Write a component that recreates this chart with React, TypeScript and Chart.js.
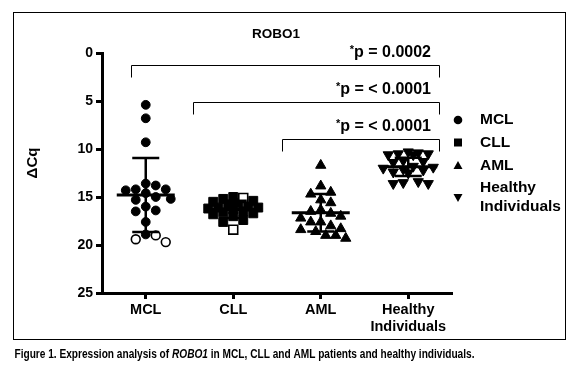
import React, { useEffect, useRef } from 'react';
import { Chart, registerables } from 'chart.js';

Chart.register(...registerables);

// ---------- data ----------
const categories = ['MCL', 'CLL', 'AML', 'Healthy Individuals'];
const mclFilled = [5.4, 6.8, 9.3, 13.6, 13.8, 14.2, 14.3, 14.2, 14.6, 15.2, 15.0, 15.3, 16.0, 16.5, 16.4, 17.6, 18.9];
const mclOpen = [19.0, 19.7, 19.4];
const cllFilled = [15.0, 15.2, 15.4, 15.5, 15.6, 15.8, 16.0, 16.1, 16.1, 16.2, 16.3, 16.5, 16.6, 16.7, 16.8, 17.0, 17.4, 17.6];
const cllOpen = [15.1, 18.4];
const amlFilled = [11.7, 13.85, 14.7, 14.5, 15.3, 15.6, 16.35, 16.5, 16.7, 17.0, 17.2, 17.6, 17.6, 18.0, 18.3, 18.4, 19.0, 19.3, 19.0, 18.6];
const amlOpen: number[] = [];
const healthyFilled = [10.3, 10.4, 10.5, 10.5, 10.6, 10.6, 11.2, 11.3, 11.4, 11.8, 11.9, 12.0, 12.1, 12.2, 12.4, 12.5, 13.4, 13.5, 13.6, 13.6];
const healthyOpen: number[] = [];
const groupMeans = [14.8, 16.3, 16.65, 11.85];
const groupSD = [3.85, 0.9, 1.95, 0.95];
const yMin = 0;
const yMax = 25;
const yStep = 5;
const pLabels = ['p = 0.0002', 'p = < 0.0001', 'p = < 0.0001'];
const chartTitle = 'ROBO1';
const yTitle = 'ΔCq';
const captionParts = [
  { text: 'Figure 1. Expression analysis of ', italic: false },
  { text: 'ROBO1', italic: true },
  { text: ' in MCL, CLL and AML patients and healthy individuals.', italic: false },
];

// ---------- layout / style ----------
const W = 581;
const H = 372;
const PLOT = { left: 102, right: 452, top: 53, bottom: 293 };
const FONT = "'Liberation Sans', Arial, sans-serif";
const styles = ['circle', 'rect', 'triangle', 'triangle'];
const radii = [4.4, 6.3, 5.9, 5.9];
const rotations = [0, 0, 0, 180];

function swarmOffsets(values: number[], pxPerUnitY: number, diam: number, maxHalf: number): number[] {
  const order = values.map((_, i) => i).sort((a, b) => values[a] - values[b]);
  const placed: { x: number; y: number }[] = [];
  const out = new Array(values.length).fill(0);
  for (const i of order) {
    const y = values[i] * pxPerUnitY;
    let done = false;
    for (let f = 1; f > 0.2 && !done; f -= 0.1) {
      const minDist = diam * f;
      for (let k = 0; k < 60; k++) {
        const x = Math.ceil(k / 2) * (k % 2 ? 1 : -1) * diam * 0.5;
        if (Math.abs(x) > maxHalf) break;
        let ok = true;
        for (const p of placed) {
          const dx = p.x - x, dy = p.y - y;
          if (dx * dx + dy * dy < minDist * minDist) { ok = false; break; }
        }
        if (ok) { out[i] = x; placed.push({ x, y }); done = true; break; }
      }
    }
    if (!done) placed.push({ x: 0, y });
  }
  return out;
}

const annotPlugin = {
  id: 'annot',
  afterDatasetsDraw(chart: any) {
    const ctx = chart.ctx;
    const xs = chart.scales.x;
    const ys = chart.scales.y;
    ctx.save();
    ctx.strokeStyle = '#000';
    groupMeans.forEach((m, g) => {
      const cx = xs.getPixelForValue(g);
      const yMean = ys.getPixelForValue(m);
      const yHi = ys.getPixelForValue(m - groupSD[g]);
      const yLo = ys.getPixelForValue(m + groupSD[g]);
      ctx.lineWidth = 2.5;
      ctx.beginPath();
      ctx.moveTo(cx, yHi); ctx.lineTo(cx, yLo);
      ctx.moveTo(cx - 13.5, yHi); ctx.lineTo(cx + 13.5, yHi);
      ctx.moveTo(cx - 13.5, yLo); ctx.lineTo(cx + 13.5, yLo);
      ctx.stroke();
      ctx.lineWidth = 3;
      ctx.beginPath();
      ctx.moveTo(cx - 29, yMean); ctx.lineTo(cx + 29, yMean);
      ctx.stroke();
    });
    ctx.restore();
  },
  afterDraw(chart: any) {
    const ctx = chart.ctx;
    ctx.save();
    ctx.strokeStyle = '#000';
    ctx.fillStyle = '#000';
    // frame
    ctx.lineWidth = 1;
    ctx.strokeRect(13.5, 12.5, 552, 327);
    // title
    ctx.font = `bold 13.5px ${FONT}`;
    ctx.textAlign = 'center';
    ctx.textBaseline = 'middle';
    ctx.fillText(chartTitle, 276, 34);
    // brackets
    const bLeft = [131, 193, 282];
    const bY = [65, 102, 139];
    const bRight = 439;
    ctx.lineWidth = 1;
    bLeft.forEach((lx, i) => {
      const y = bY[i] + 0.5;
      ctx.beginPath();
      ctx.moveTo(lx + 0.5, y + 12); ctx.lineTo(lx + 0.5, y); ctx.lineTo(bRight + 0.5, y); ctx.lineTo(bRight + 0.5, y + 12);
      ctx.stroke();
      ctx.font = `bold 16px ${FONT}`;
      ctx.textAlign = 'right';
      ctx.textBaseline = 'middle';
      const ty = bY[i] - 12;
      ctx.fillText(pLabels[i], 431, ty);
      const w = ctx.measureText(pLabels[i]).width;
      ctx.font = `bold 11px ${FONT}`;
      ctx.fillText('*', 431 - w, ty - 3);
    });
    // y title
    ctx.save();
    ctx.translate(33, 163);
    ctx.rotate(-Math.PI / 2);
    ctx.font = `bold 15px ${FONT}`;
    ctx.textAlign = 'center';
    ctx.textBaseline = 'middle';
    ctx.fillText(yTitle, 0, 0);
    ctx.restore();
    // legend
    const mx = 458;
    const tx = 480;
    ctx.font = `bold 15.5px ${FONT}`;
    ctx.textAlign = 'left';
    ctx.textBaseline = 'middle';
    ctx.beginPath(); ctx.arc(mx, 120, 4.3, 0, Math.PI * 2); ctx.fill();
    ctx.fillText(categories[0], tx, 120);
    ctx.fillRect(mx - 4, 142.5 - 4, 8, 8);
    ctx.fillText(categories[1], tx, 142.5);
    ctx.beginPath(); ctx.moveTo(mx, 161); ctx.lineTo(mx + 4.5, 169); ctx.lineTo(mx - 4.5, 169); ctx.closePath(); ctx.fill();
    ctx.fillText(categories[2], tx, 165.5);
    ctx.beginPath(); ctx.moveTo(mx - 4.5, 194); ctx.lineTo(mx + 4.5, 194); ctx.lineTo(mx, 202); ctx.closePath(); ctx.fill();
    const hl = categories[3].split(' ');
    ctx.fillText(hl[0], tx, 188);
    ctx.fillText(hl[1], tx, 207);
    // caption
    const boldN = `bold 12px ${FONT}`;
    const boldI = `italic bold 12px ${FONT}`;
    let total = 0;
    captionParts.forEach((p) => { ctx.font = p.italic ? boldI : boldN; total += ctx.measureText(p.text).width; });
    const sx = 460 / total;
    ctx.save();
    ctx.translate(14.5, 355);
    ctx.scale(sx, 1);
    let cx = 0;
    ctx.textBaseline = 'middle';
    captionParts.forEach((p) => {
      ctx.font = p.italic ? boldI : boldN;
      ctx.fillText(p.text, cx, 0);
      cx += ctx.measureText(p.text).width;
    });
    ctx.restore();
    ctx.restore();
  },
};

export default function App() {
  const ref = useRef<HTMLCanvasElement | null>(null);
  useEffect(() => {
    if (!ref.current) return;
    const pxY = (PLOT.bottom - PLOT.top) / (yMax - yMin);
    const pxX = (PLOT.right - PLOT.left) / categories.length;
    const groups = [
      [mclFilled, mclOpen],
      [cllFilled, cllOpen],
      [amlFilled, amlOpen],
      [healthyFilled, healthyOpen],
    ];
    const datasets = groups.map(([filled, open], g) => {
      const all = [...filled, ...open];
      const offs = swarmOffsets(all, pxY, 10, 27);
      return {
        label: categories[g],
        data: all.map((v, j) => ({ x: g + offs[j] / pxX, y: v })),
        pointStyle: styles[g] as any,
        pointRadius: radii[g],
        pointRotation: rotations[g],
        pointBackgroundColor: all.map((_, j) => (j < filled.length ? '#000' : '#fff')),
        pointBorderColor: '#000',
        pointBorderWidth: all.map((_, j) => (j < filled.length ? 1 : 1.6)),
        showLine: false,
      };
    });
    const chart = new Chart(ref.current, {
      type: 'scatter',
      data: { datasets },
      options: {
        animation: false,
        responsive: false,
        events: [],
        layout: { padding: { left: 0, right: W - PLOT.right, top: PLOT.top, bottom: 0 } },
        plugins: { legend: { display: false }, tooltip: { enabled: false } },
        scales: {
          x: {
            type: 'linear',
            min: -0.5,
            max: categories.length - 0.5,
            afterBuildTicks: (s: any) => { s.ticks = categories.map((_, i) => ({ value: i })); },
            afterFit: (s: any) => { s.height = H - PLOT.bottom; },
            border: { display: true, color: '#000', width: 3 },
            grid: { display: true, drawOnChartArea: false, drawTicks: true, tickLength: 6, tickWidth: 3, tickColor: '#000', color: '#000' },
            ticks: {
              autoSkip: false,
              maxRotation: 0,
              padding: 2,
              color: '#000',
              font: { family: FONT, size: 14.5, weight: 'bold', lineHeight: 1.2 },
              callback: (v: any) => {
                const lbl = categories[Math.round(v)];
                return lbl && lbl.includes(' ') ? lbl.split(' ') : lbl;
              },
            },
          },
          y: {
            type: 'linear',
            reverse: true,
            min: yMin,
            max: yMax,
            afterFit: (s: any) => { s.width = PLOT.left; },
            border: { display: true, color: '#000', width: 3 },
            grid: { display: true, drawOnChartArea: false, drawTicks: true, tickLength: 6, tickWidth: 3, tickColor: '#000', color: '#000' },
            ticks: {
              stepSize: yStep,
              padding: 3,
              color: '#000',
              font: { family: FONT, size: 14, weight: 'bold' },
            },
          },
        },
      },
      plugins: [annotPlugin],
    } as any);
    return () => chart.destroy();
  }, []);
  return (
    <div style={{ position: 'absolute', left: 0, top: 0, width: W, height: H, background: '#fff' }}>
      <canvas ref={ref} width={W} height={H} style={{ display: 'block' }} />
    </div>
  );
}
